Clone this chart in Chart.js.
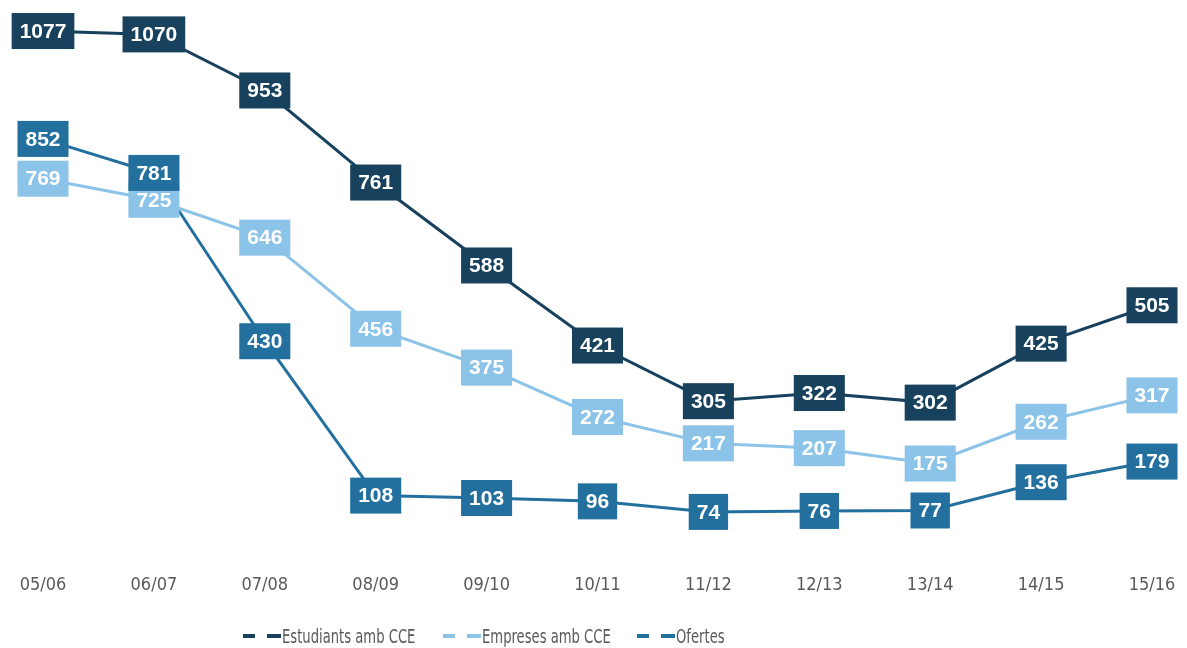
<!DOCTYPE html>
<html>
<head>
<meta charset="utf-8">
<script src="https://cdn.jsdelivr.net/npm/chart.js@4/dist/chart.umd.min.js"></script>
<style>
  body { margin: 0; background: #fff; }
  #wrap { position: relative; width: 1187px; height: 648px; }
  #legend {
    position: absolute; top: 624px; left: 0; width: 1187px; height: 24px;
    font: 19px "DejaVu Sans Condensed", "Liberation Sans", sans-serif;
    color: #595959; white-space: nowrap;
  }
  .item { position: absolute; top: 0; height: 24px; line-height: 24px; }
  .dash { position: absolute; top: 10px; height: 4px; }
  .dash.a { left: 0; width: 12px; }
  .dash.b { left: 24px; width: 14px; }
  .txt { position: absolute; left: 39px; top: 0; transform: scaleX(0.77); transform-origin: left center; }
</style>
</head>
<body>
<div id="wrap">
  <canvas id="chart" width="1187" height="648"></canvas>
  <div id="legend"></div>
</div>
<script>
// ── data ─────────────────────────────────────────────
const years = ['05/06', '06/07', '07/08', '08/09', '09/10', '10/11', '11/12', '12/13', '13/14', '14/15', '15/16'];
const estudiants = [1077, 1070, 953, 761, 588, 421, 305, 322, 302, 425, 505];
const empreses = [769, 725, 646, 456, 375, 272, 217, 207, 175, 262, 317];
const ofertes = [852, 781, 430, 108, 103, 96, 74, 76, 77, 136, 179];

const NAVY = '#17415d';
const LIGHT = '#8cc3e8';
const MID = '#23709f';

const series = [
  { label: 'Estudiants amb CCE', data: estudiants, color: NAVY, legendX: 243 },
  { label: 'Empreses amb CCE', data: empreses, color: LIGHT, legendX: 443 },
  { label: 'Ofertes', data: ofertes, color: MID, legendX: 637 }
];

// ── boxed value labels ───────────────────────────────
const boxLabels = {
  id: 'boxLabels',
  afterDatasetsDraw(chart) {
    const ctx = chart.ctx;
    ctx.save();
    ctx.font = 'bold 21px "Liberation Sans", Arial, sans-serif';
    ctx.textAlign = 'center';
    ctx.textBaseline = 'middle';
    chart.data.datasets.forEach((ds, i) => {
      const meta = chart.getDatasetMeta(i);
      meta.data.forEach((pt, j) => {
        const txt = String(ds.data[j]);
        const w = ctx.measureText(txt).width + 16;
        ctx.fillStyle = ds.borderColor;
        ctx.fillRect(pt.x - w / 2, pt.y - 18, w, 36);
        ctx.fillStyle = '#fff';
        ctx.fillText(txt, pt.x, pt.y + 1);
      });
    });
    ctx.restore();
  }
};

new Chart(document.getElementById('chart'), {
  type: 'line',
  data: {
    labels: years,
    datasets: series.map(s => ({
      label: s.label,
      data: s.data,
      borderColor: s.color,
      backgroundColor: s.color,
      borderWidth: 3,
      pointRadius: 0,
      tension: 0
    }))
  },
  options: {
    responsive: false,
    animation: false,
    layout: { padding: { left: 43, right: 35, top: 20, bottom: 25 } },
    plugins: {
      legend: { display: false },
      tooltip: { enabled: false }
    },
    scales: {
      x: {
        offset: false,
        grid: { display: false, drawTicks: false },
        border: { display: false },
        afterFit(scale) {
          // let the layout padding alone decide where the first/last points sit
          scale.paddingLeft = 0;
          scale.paddingRight = 0;
        },
        ticks: {
          padding: 27,
          color: '#595959',
          maxRotation: 0,
          font: { family: '"DejaVu Sans Condensed", "Liberation Sans", sans-serif', size: 18 }
        }
      },
      y: {
        display: false,
        min: 0,
        max: 1100
      }
    }
  },
  plugins: [boxLabels]
});

// ── legend ───────────────────────────────────────────
document.getElementById('legend').innerHTML = series.map(s => `
  <span class="item" style="left:${s.legendX}px">
    <span class="dash a" style="background:${s.color}"></span><span class="dash b" style="background:${s.color}"></span><span class="txt">${s.label}</span>
  </span>`).join('');
</script>
</body>
</html>
